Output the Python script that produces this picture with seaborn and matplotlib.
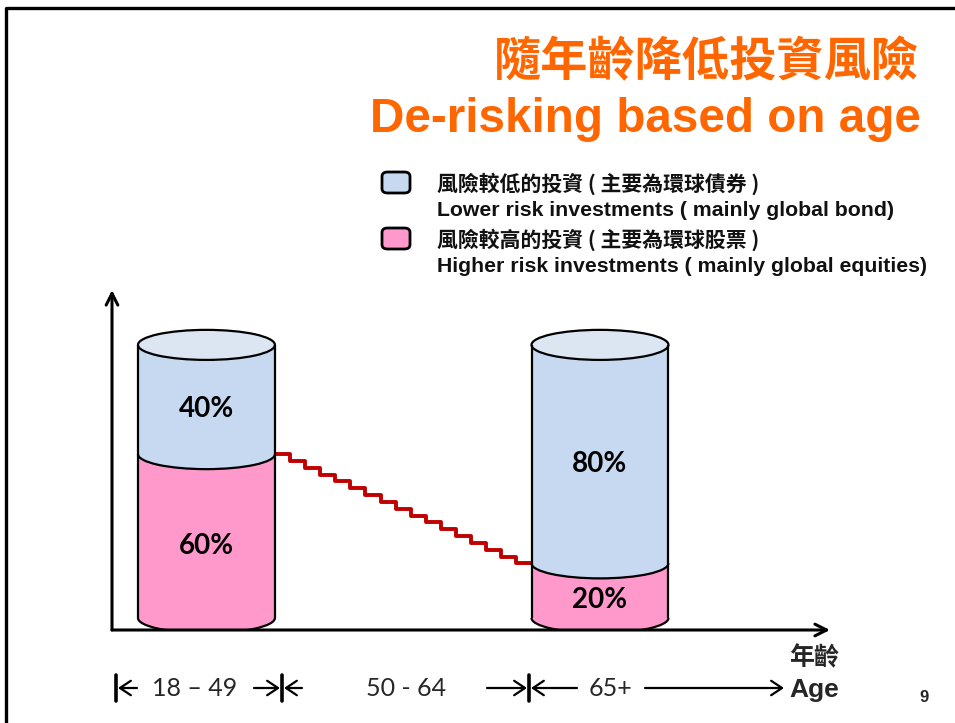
"""
De-risking based on age: two cylinders showing the bond / equity split
for the 18-49 and 65+ age bands, joined by a stepped glide path.
"""

import numpy as np
import pandas as pd
import seaborn as sns
import matplotlib.pyplot as plt
from matplotlib.patches import Ellipse, Arc, FancyBboxPatch, FancyArrowPatch
from matplotlib.lines import Line2D

sns.set_theme(style="white")
plt.rcParams["font.family"] = ["Liberation Sans", "Noto Sans CJK TC", "DejaVu Sans"]

# data
age_bands = ["18 – 49", "50 - 64", "65+"]
cyl_pos = [0, 2]                 # index of the age band holding a cylinder
bond_pct = [40, 80]
equity_pct = [60, 20]
# equity share along the glide path through the 50-64 band
glide_equity = [60, 57.5, 55, 52.5, 50, 47.5, 45, 42.5, 40,
                37.5, 35, 32.5, 30, 27.5, 25, 22.5, 20]

title_zh = "隨年齡降低投資風險"
title_en = "De-risking based on age"
legend_zh = ["風險較低的投資 ( 主要為環球債券 )", "風險較高的投資 ( 主要為環球股票 )"]
legend_en = ["Lower risk investments ( mainly global bond)",
             "Higher risk investments ( mainly global equities)"]

BLUE = "#c6d9f0"
BLUE_TOP = "#dce6f2"
PINK = "#ff99cc"
ORANGE = "#ff6600"
RED = "#c00000"
CJK = ["Noto Sans CJK TC", "Liberation Sans"]

W, H = 955, 723


def fx(px):
    return px / W


def fy(py):
    return 1 - py / H


def draw_cylinders(ax, data, width, ry):
    # bodies via seaborn, equity drawn over the full-height bond bar
    sns.barplot(data=data, x="pos", y="total", native_scale=True,
                color=BLUE, saturation=1, linewidth=0, ax=ax, zorder=1)
    sns.barplot(data=data, x="pos", y="equity", native_scale=True,
                color=PINK, saturation=1, linewidth=0, ax=ax, zorder=1)
    for p in ax.patches:
        cx = round(p.get_x() + p.get_width() / 2)
        p.set_x(cx - width / 2)
        p.set_width(width)

    for _, row in data.iterrows():
        x, eq, tot = row["pos"], row["equity"], row["total"]
        # bottom of cylinder
        ax.add_patch(Ellipse((x, 0), width, 2 * ry, facecolor=PINK,
                             edgecolor="none", zorder=2))
        ax.add_patch(Arc((x, 0), width, 2 * ry, theta1=180, theta2=360,
                         color="black", lw=1.6, zorder=3))
        # divider between bond and equity
        ax.add_patch(Ellipse((x, eq), width, 2 * ry, facecolor=BLUE,
                             edgecolor="none", zorder=2))
        ax.add_patch(Arc((x, eq), width, 2 * ry, theta1=180, theta2=360,
                         color="black", lw=1.6, zorder=3))
        # top
        ax.add_patch(Ellipse((x, tot), width, 2 * ry, facecolor=BLUE_TOP,
                             edgecolor="black", lw=1.6, zorder=3))
        for side in (-1, 1):
            ax.plot([x + side * width / 2] * 2, [0, tot], color="black",
                    lw=1.6, zorder=3, solid_capstyle="butt")
        # labels sit a little below the middle of each section
        ax.text(x, (eq + tot) / 2 - 3.5, f"{row['bond']:.0f}%", ha="center",
                va="center", fontsize=20, fontweight="bold", family="Lato",
                color="black", zorder=4)
        ax.text(x, eq / 2 - 3.5, f"{eq:.0f}%", ha="center", va="center",
                fontsize=20, fontweight="bold", family="Lato",
                color="black", zorder=4)


def main():
    data = pd.DataFrame({"pos": cyl_pos, "bond": bond_pct,
                         "equity": equity_pct})
    data["total"] = data["bond"] + data["equity"]

    fig = plt.figure(figsize=(W / 100, H / 100), dpi=100)
    ax = fig.add_axes([fx(112), fy(630), fx(830) - fx(112), fy(290) - fy(630)])
    width = 0.696
    ry = 5.5
    draw_cylinders(ax, data, width, ry)

    # stepped glide path between the cylinders
    x0 = cyl_pos[0] + width / 2
    x1 = cyl_pos[1] - width / 2
    xs = np.linspace(x0, x1, len(glide_equity) + 1)
    ys = glide_equity + [glide_equity[-1]]
    ax.step(xs, ys, where="post", color=RED, lw=2.8, zorder=0)

    ax.set_xlim(-0.48, 3.169)
    ax.set_ylim(-4.4, 120.1)
    ax.axis("off")

    # axes with arrows
    arrow = dict(arrowstyle="->,head_length=0.7,head_width=0.35",
                 color="black", lw=2.2, shrinkA=0, shrinkB=0)
    ax.annotate("", xy=(0, 1), xytext=(0, 0), xycoords="axes fraction",
                arrowprops=arrow)
    ax.annotate("", xy=(1, 0), xytext=(0, 0), xycoords="axes fraction",
                arrowprops=arrow)

    # titles
    fig.text(fx(919), fy(62), title_zh, ha="right", va="center",
             fontsize=34, fontweight="bold", color=ORANGE, family=CJK)
    fig.text(fx(921), fy(120), title_en, ha="right", va="center",
             fontsize=34.3, fontweight="bold", color=ORANGE)

    # legend
    for i, col in enumerate([BLUE, PINK]):
        top = 172 + i * 56
        fig.patches.append(FancyBboxPatch(
            (fx(382), fy(top + 21)), fx(28), fy(0) - fy(21),
            boxstyle="round,pad=0,rounding_size=0.006",
            transform=fig.transFigure, facecolor=col, edgecolor="black",
            lw=2))
        fig.text(fx(437), fy(top + 12), legend_zh[i], ha="left",
                 va="center", fontsize=15, fontweight="bold", family=CJK,
                 color="#111111")
        fig.text(fx(437), fy(top + 38), legend_en[i], ha="left",
                 va="center", fontsize=15.3, fontweight="bold",
                 color="#111111")

    # age band markers along the bottom
    yb = 688
    for bx in (116, 282, 529):
        fig.add_artist(Line2D([fx(bx)] * 2, [fy(675), fy(701)],
                              color="black", lw=2.6))
    small = dict(arrowstyle="->,head_length=0.6,head_width=0.4",
                 mutation_scale=13, color="black", lw=1.6,
                 shrinkA=0, shrinkB=0)
    for start, end in [(137, 118), (254, 280), (302, 284), (487, 527),
                       (577, 531), (645, 784)]:
        fig.add_artist(FancyArrowPatch(
            (fx(start), fy(yb)), (fx(end), fy(yb)),
            transform=fig.transFigure, **small))
    for label, px in zip(age_bands, (195, 406, 610)):
        fig.text(fx(px), fy(yb), label, ha="center", va="center",
                 fontsize=18, family="Lato")

    fig.text(fx(814), fy(658), "年齡", ha="center", va="center",
             fontsize=18, fontweight="bold", family=CJK)
    fig.text(fx(814), fy(690), "Age", ha="center", va="center",
             fontsize=19, fontweight="bold")
    fig.text(fx(924), fy(698), "9", ha="center", va="center",
             fontsize=12, fontweight="bold")

    # slide frame
    fig.add_artist(Line2D([fx(6), fx(6), 1], [0, fy(8), fy(8)],
                          color="black", lw=2.4))

    plt.savefig("out.png", dpi=100)


if __name__ == "__main__":
    main()
